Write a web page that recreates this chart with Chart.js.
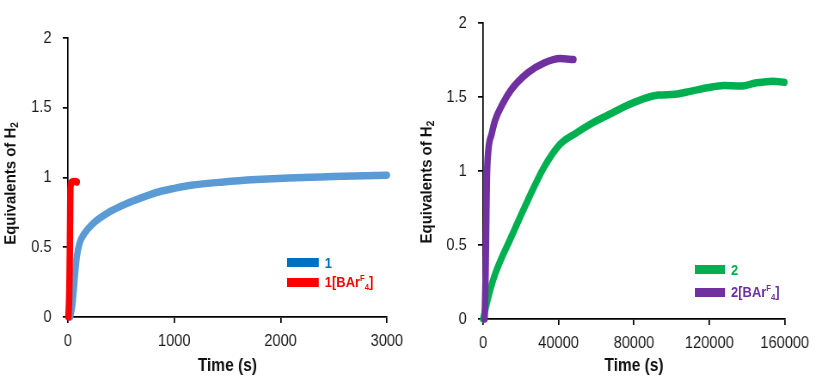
<!DOCTYPE html>
<html>
<head>
<meta charset="utf-8">
<script src="https://cdn.jsdelivr.net/npm/chart.js@4"></script>
<style>
  body { margin: 0; background: #fff; width: 816px; height: 377px; overflow: hidden; position: relative; }
  /* the source figure uses a condensed font, so each panel is drawn wider and scaled down */
  .panel { position: absolute; top: 0; height: 377px; transform-origin: 0 0; }
  .legend { position: absolute; transform-origin: 0 0; transform: scaleX(0.86);
            font-family: 'Liberation Sans', Arial, sans-serif; font-weight: bold; font-size: 15px; }
  .legend .item { height: 20px; display: flex; align-items: center; white-space: nowrap; }
  .legend .sw { display: inline-block; height: 9px; margin-right: 7px; }
  .legend sup { font-size: 9px; vertical-align: 6px; }
  .legend sub { font-size: 9px; vertical-align: -3px; }
</style>
</head>
<body>
<div class="panel" style="left:0; width:477px; transform:scaleX(0.8595);"><canvas id="chartLeft" width="477" height="377"></canvas></div>
<div class="panel" style="left:410px; width:472px; transform:scaleX(0.8602);"><canvas id="chartRight" width="472" height="377"></canvas></div>

<div class="legend" style="left:287px; top:252px;">
  <div class="item"><span class="sw" style="width:37px; background:#0070C0"></span><span style="color:#0070C0">1</span></div>
  <div class="item"><span class="sw" style="width:37px; background:#FF0000"></span><span style="color:#FF0000">1[BAr<sup>F</sup><sub>4</sub>]</span></div>
</div>
<div class="legend" style="left:695px; top:258px;">
  <div class="item" style="height:23px"><span class="sw" style="width:35px; background:#00B050"></span><span style="color:#00B050">2</span></div>
  <div class="item" style="height:23px"><span class="sw" style="width:35px; background:#7030A0"></span><span style="color:#7030A0">2[BAr<sup>F</sup><sub>4</sub>]</span></div>
</div>

<script>
// left panel: complex 1 and 1[BArF4], time in s
const time1 = [21, 40, 52, 67, 83, 110, 144, 236, 390, 543, 700, 850, 1000, 1157, 1465, 1772, 2079, 2386, 2693, 3000];
const eq1 = [0, 0.08, 0.17, 0.31, 0.43, 0.53, 0.586, 0.67, 0.753, 0.81, 0.857, 0.896, 0.922, 0.944, 0.968, 0.985, 0.997, 1.004, 1.011, 1.017];
const time1B = [5, 12, 16, 19, 21, 23, 27, 40, 60, 83];
const eq1B = [0, 0.15, 0.35, 0.55, 0.75, 0.9, 0.95, 0.968, 0.972, 0.968];

// right panel: complex 2 and 2[BArF4]
const time2 = [0, 2760, 6250, 14900, 23600, 32300, 40900, 49600, 58300, 67000, 75700, 84300, 93000, 101700, 110400, 119000, 127700, 136400, 145100, 153700, 159800];
const eq2 = [0, 0.15, 0.3, 0.555, 0.8, 1.026, 1.183, 1.26, 1.328, 1.384, 1.44, 1.485, 1.514, 1.519, 1.541, 1.563, 1.579, 1.575, 1.597, 1.608, 1.6];
const time2B = [800, 1300, 1700, 2000, 2760, 4500, 6250, 10570, 14900, 23600, 32300, 40900, 47900];
const eq2B = [0, 0.3, 0.7, 0.95, 1.14, 1.25, 1.34, 1.46, 1.55, 1.664, 1.731, 1.761, 1.754];

const xTicksLeft = [0, 1000, 2000, 3000];
const xTicksRight = [0, 40000, 80000, 120000, 160000];
const yTicks = [0, 0.5, 1, 1.5, 2];

const FONT = "'Liberation Sans', Arial, sans-serif";

// y axis title with a real subscript, condensed along its length like the source
const yTitlePlugin = {
    id: 'yTitle',
    afterDraw(chart, args, opts) {
        const ctx = chart.ctx;
        const area = chart.chartArea;
        const main = 'Equivalents of H';
        ctx.save();
        ctx.translate(opts.x, (area.top + area.bottom) / 2 + opts.shift);
        ctx.rotate(-Math.PI / 2);
        ctx.scale(0.83, 1);
        ctx.fillStyle = '#111';
        ctx.textBaseline = 'middle';
        ctx.font = `bold 18px ${FONT}`;
        const w1 = ctx.measureText(main).width;
        ctx.font = `bold 12px ${FONT}`;
        const w2 = ctx.measureText('2').width;
        const start = -(w1 + w2) / 2;
        ctx.textAlign = 'left';
        ctx.font = `bold 18px ${FONT}`;
        ctx.fillText(main, start, 0);
        ctx.font = `bold 12px ${FONT}`;
        ctx.fillText('2', start + w1, 5);
        ctx.restore();
    }
};

function toPoints(xs, ys) {
    return xs.map((x, i) => ({ x: x, y: ys[i] }));
}

function lineSet(xs, ys, color, order) {
    return {
        data: toPoints(xs, ys),
        borderColor: color,
        backgroundColor: color,
        borderWidth: 7.5,
        borderCapStyle: 'round',
        borderJoinStyle: 'round',
        pointRadius: 0,
        cubicInterpolationMode: 'monotone',
        clip: false,
        order: order
    };
}

function makeChart(id, datasets, xMax, xTicks, layout) {
    const axisCommon = {
        border: { color: '#000', width: 1.7 },
        grid: { drawOnChartArea: false, color: '#000', tickLength: 6, lineWidth: 1.7 }
    };
    return new Chart(document.getElementById(id), {
        type: 'line',
        data: { datasets: datasets },
        plugins: [yTitlePlugin],
        options: {
            responsive: false,
            animation: false,
            layout: { padding: { top: layout.top, right: layout.right, bottom: 0, left: 0 } },
            plugins: {
                legend: { display: false },
                tooltip: { enabled: false },
                yTitle: { x: layout.titleX, shift: layout.titleShift }
            },
            scales: {
                x: {
                    type: 'linear',
                    min: 0,
                    max: xMax,
                    ...axisCommon,
                    afterBuildTicks: s => { s.ticks = xTicks.map(v => ({ value: v })); },
                    afterFit: s => { s.height = layout.xHeight; },
                    ticks: {
                        color: '#1a1a1a',
                        padding: 8,
                        maxRotation: 0,
                        font: { family: FONT, size: 17 },
                        callback: v => String(v)
                    },
                    title: {
                        display: true,
                        text: 'Time (s)',
                        color: '#111',
                        padding: { top: 0, bottom: 0 },
                        font: { family: FONT, size: 18, weight: 'bold' }
                    }
                },
                y: {
                    min: 0,
                    max: 2,
                    ...axisCommon,
                    afterBuildTicks: s => { s.ticks = yTicks.map(v => ({ value: v })); },
                    afterFit: s => { s.width = layout.yWidth; },
                    ticks: {
                        color: '#1a1a1a',
                        padding: 13,
                        font: { family: FONT, size: 17 },
                        callback: v => String(v)
                    }
                }
            }
        }
    });
}

makeChart('chartLeft', [
    lineSet(time1, eq1, '#5B9BD5', 2),
    lineSet(time1B, eq1B, '#FF0000', 1)
], 3000, xTicksLeft, { top: 38, right: 20, xHeight: 60, yWidth: 79, titleX: 13, titleShift: 6 });

makeChart('chartRight', [
    lineSet(time2, eq2, '#00B050', 2),
    lineSet(time2B, eq2B, '#7030A0', 1)
], 160000, xTicksRight, { top: 22, right: 30, xHeight: 58, yWidth: 85, titleX: 20, titleShift: 11 });
</script>
</body>
</html>
